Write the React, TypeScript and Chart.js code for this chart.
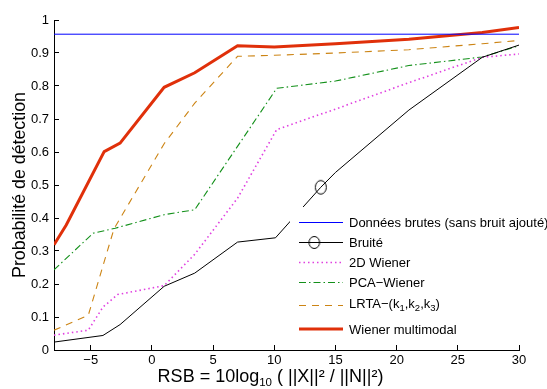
import React, { useEffect, useRef } from 'react';
import { Chart, registerables } from 'chart.js';

Chart.register(...registerables);

// ---------- data ----------
const xTicks = [-5, 0, 5, 10, 15, 20, 25, 30];
const yTicks = [0, 0.1, 0.2, 0.3, 0.4, 0.5, 0.6, 0.7, 0.8, 0.9, 1];

const brutesX = [-8, 30];
const brutesY = [0.957, 0.957];

const bruiteX = [-8, -4, -2.6, 1, 3.5, 7, 10.1, 13.8, 15, 21, 27, 30];
const bruiteY = [0.024, 0.044, 0.077, 0.193, 0.233, 0.327, 0.34, 0.493, 0.538, 0.727, 0.887, 0.924];
const bruiteMarkerX = 13.8;

const wiener2dX = [-8, -5.2, -4, -2.8, 1, 3.5, 7, 10.2, 15, 21, 27, 30];
const wiener2dY = [0.045, 0.06, 0.13, 0.168, 0.195, 0.29, 0.46, 0.668, 0.73, 0.81, 0.887, 0.897];

const pcaX = [-8, -4.8, -3, 1, 3.5, 10.2, 15, 21, 27, 30];
const pcaY = [0.243, 0.354, 0.369, 0.41, 0.425, 0.793, 0.815, 0.862, 0.888, 0.922];

const lrtaX = [-8, -5.2, -3.1, 1, 3.5, 7, 10, 15, 21, 27, 30];
const lrtaY = [0.06, 0.105, 0.367, 0.625, 0.748, 0.89, 0.893, 0.9, 0.91, 0.928, 0.938];

const multiX = [-8, -7, -3.9, -2.6, 1, 3.5, 7, 10, 15, 21, 27, 30];
const multiY = [0.319, 0.379, 0.601, 0.627, 0.796, 0.84, 0.922, 0.918, 0.928, 0.942, 0.962, 0.977];

// legend labels as [text, isSubscript] pieces
const seriesLabels: [string, boolean][][] = [
  [['Données brutes (sans bruit ajouté)', false]],
  [['Bruité', false]],
  [['2D Wiener', false]],
  [['PCA\u2212Wiener', false]],
  [['LRTA\u2212(k', false], ['1', true], [',k', false], ['2', true], [',k', false], ['3', true], [')', false]],
  [['Wiener multimodal', false]],
];

// x-axis title pieces: [text, isSubscript]
const xTitleParts: [string, boolean][] = [
  ['RSB = 10log', false],
  ['10', true],
  [' ( ||X||\u00b2 / ||N||\u00b2)', false],
];
const yTitle = 'Probabilité de détection';

// ---------- styles ----------
const FONT = '"Liberation Sans", Arial, Helvetica, sans-serif';
const styles = [
  { color: '#0000ff', width: 1, dash: [] as number[] },
  { color: '#000000', width: 1, dash: [] as number[] },
  { color: '#e040e0', width: 1.6, dash: [1.5, 3] },
  { color: '#13901a', width: 1.1, dash: [7, 3, 1.5, 3] },
  { color: '#cc8414', width: 1.1, dash: [7, 6] },
  { color: '#e0300a', width: 3, dash: [] as number[] },
];
const seriesX = [brutesX, bruiteX, wiener2dX, pcaX, lrtaX, multiX];
const seriesY = [brutesY, bruiteY, wiener2dY, pcaY, lrtaY, multiY];

function makeEllipse(rx: number, ry: number) {
  const c = document.createElement('canvas');
  c.width = Math.ceil(rx * 2 + 3);
  c.height = Math.ceil(ry * 2 + 3);
  const g = c.getContext('2d')!;
  g.strokeStyle = '#000';
  g.lineWidth = 1;
  g.beginPath();
  g.ellipse(c.width / 2, c.height / 2, rx, ry, 0, 0, Math.PI * 2);
  g.stroke();
  return c;
}

function fmtTick(v: number) {
  const s = String(Math.round(v * 10) / 10);
  return s.replace('-', '\u2212');
}

function drawParts(
  ctx: CanvasRenderingContext2D,
  parts: [string, boolean][],
  x: number,
  y: number,
  size: number,
  subSize: number,
  subShift: number,
) {
  parts.forEach(([t, sub]) => {
    ctx.font = (sub ? subSize : size) + 'px ' + FONT;
    ctx.fillText(t, x, sub ? y + subShift : y);
    x += ctx.measureText(t).width;
  });
}

function partsWidth(ctx: CanvasRenderingContext2D, parts: [string, boolean][], size: number, subSize: number) {
  let w = 0;
  parts.forEach(([t, sub]) => {
    ctx.font = (sub ? subSize : size) + 'px ' + FONT;
    w += ctx.measureText(t).width;
  });
  return w;
}

export default function App() {
  const ref = useRef<HTMLCanvasElement | null>(null);

  useEffect(() => {
    if (!ref.current) return;
    const marker = makeEllipse(5.5, 6.8);
    const legendMarker = makeEllipse(5.3, 6);

    const overlayPlugin = {
      id: 'matlabOverlay',
      afterDraw(chart: any) {
        const ctx = chart.ctx as CanvasRenderingContext2D;
        ctx.save();
        // legend
        ctx.fillStyle = '#ffffff';
        ctx.fillRect(290, 207, 260, 136);
        const rows = [222.5, 242.5, 262.5, 282.5, 305.5, 329];
        const textBase = [227, 247, 267, 287, 307.5, 333.5];
        const x1 = 299, x2 = 343, tx = 349;
        styles.forEach((st, i) => {
          ctx.strokeStyle = st.color;
          ctx.lineWidth = st.width;
          ctx.setLineDash(st.dash);
          ctx.beginPath();
          ctx.moveTo(x1, rows[i]);
          ctx.lineTo(x2, rows[i]);
          ctx.stroke();
          ctx.setLineDash([]);
          if (i === 1) {
            ctx.drawImage(legendMarker, 314.3 - legendMarker.width / 2, rows[i] - legendMarker.height / 2);
          }
          ctx.fillStyle = '#000';
          ctx.textBaseline = 'alphabetic';
          ctx.textAlign = 'left';
          drawParts(ctx, seriesLabels[i], tx, textBase[i], 13, 9.5, 3.5);
        });
        // x-axis title with real subscript
        const area = chart.chartArea;
        const baseY = area.bottom + 31.5;
        ctx.textBaseline = 'alphabetic';
        ctx.textAlign = 'left';
        ctx.fillStyle = '#000';
        const total = partsWidth(ctx, xTitleParts, 18, 11.5);
        const x = (area.left + area.right) / 2 - 16 - total / 2;
        drawParts(ctx, xTitleParts, x, baseY, 18, 11.5, 4.5);
        ctx.restore();
      },
    };

    const datasets = seriesLabels.map((parts, i) => ({
      label: parts.map((p) => p[0]).join(''),
      data: seriesX[i].map((x, j) => ({ x, y: seriesY[i][j] })),
      borderColor: styles[i].color,
      backgroundColor: styles[i].color,
      borderWidth: styles[i].width,
      borderDash: styles[i].dash,
      fill: false,
      tension: 0,
      pointRadius: i === 1
        ? (c: any) => (seriesX[1][c.dataIndex] === bruiteMarkerX ? 6 : 0)
        : 0,
      pointStyle: i === 1 ? marker : 'circle',
      pointHoverRadius: 0,
    }));

    const chart = new Chart(ref.current, {
      type: 'line',
      data: { datasets },
      plugins: [overlayPlugin],
      options: {
        animation: false,
        responsive: false,
        devicePixelRatio: 1,
        events: [],
        layout: { padding: { top: 20, right: 28, left: 0, bottom: 0 } },
        plugins: { legend: { display: false }, tooltip: { enabled: false } },
        scales: {
          x: {
            type: 'linear',
            min: -8,
            max: 30,
            afterBuildTicks: (s: any) => { s.ticks = xTicks.map((v) => ({ value: v })); },
            afterFit: (s: any) => { s.height = 39; },
            grid: { display: true, drawOnChartArea: false, drawTicks: true, tickLength: -5, color: '#000', lineWidth: 1 },
            border: { display: true, color: '#000', width: 1 },
            ticks: {
              padding: 8,
              color: '#000',
              font: { family: FONT, size: 13 },
              maxRotation: 0,
              autoSkip: false,
              callback: (v: any) => fmtTick(Number(v)),
            },
            title: { display: false },
          },
          y: {
            type: 'linear',
            min: 0,
            max: 1,
            afterBuildTicks: (s: any) => { s.ticks = yTicks.map((v) => ({ value: v })); },
            afterFit: (s: any) => { s.width = 54; },
            grid: { display: true, drawOnChartArea: false, drawTicks: true, tickLength: -5, color: '#000', lineWidth: 1 },
            border: { display: true, color: '#000', width: 1 },
            ticks: {
              padding: 10,
              color: '#000',
              font: { family: FONT, size: 13 },
              autoSkip: false,
              callback: (v: any) => fmtTick(Number(v)),
            },
            title: {
              display: true,
              text: yTitle,
              color: '#000',
              font: { family: FONT, size: 17.8 },
              padding: { top: 9, bottom: 0 },
            },
          },
        },
      },
    } as any);

    return () => chart.destroy();
  }, []);

  return (
    <div style={{ position: 'fixed', left: 0, top: 0, width: 547, height: 389, background: '#fff' }}>
      <canvas ref={ref} width={547} height={389} style={{ display: 'block', width: 547, height: 389 }} />
    </div>
  );
}
